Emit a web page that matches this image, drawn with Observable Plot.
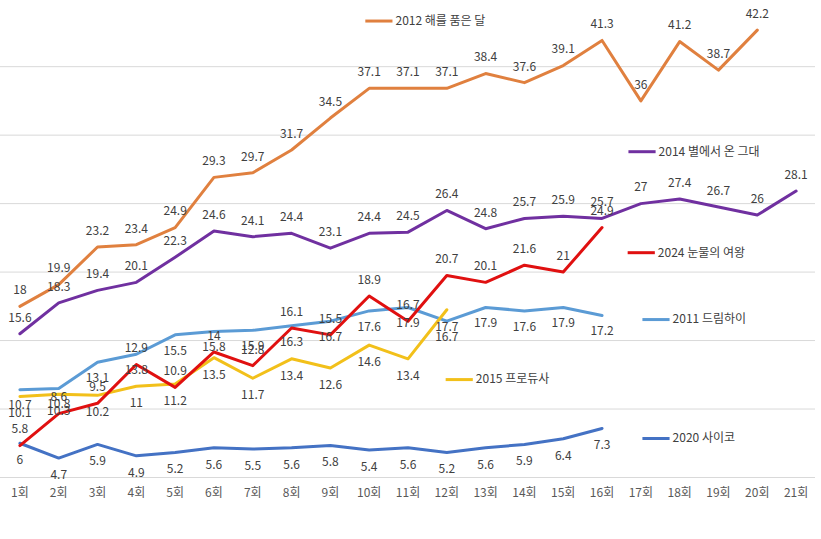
<!DOCTYPE html>
<html><head><meta charset="utf-8">
<script src="https://cdn.jsdelivr.net/npm/d3@7"></script>
<script src="https://cdn.jsdelivr.net/npm/@observablehq/plot@0.6"></script>
<style>
body{margin:0;background:#fff;}
#chart{width:821px;height:539px;}
</style>
</head><body><div id="chart"></div>
<script>
// ---- data ----
const tickLabels = ["1회","2회","3회","4회","5회","6회","7회","8회","9회","10회","11회","12회","13회","14회","15회","16회","17회","18회","19회","20회","21회"];
const seriesNames = ["2012 해를 품은 달","2014 별에서 온 그대","2024 눈물의 여왕","2011 드림하이","2015 프로듀사","2020 사이코"];
const moonSun   = [18, 19.9, 23.2, 23.4, 24.9, 29.3, 29.7, 31.7, 34.5, 37.1, 37.1, 37.1, 38.4, 37.6, 39.1, 41.3, 36, 41.2, 38.7, 42.2];
const starFar   = [15.6, 18.3, 19.4, 20.1, 22.3, 24.6, 24.1, 24.4, 23.1, 24.4, 24.5, 26.4, 24.8, 25.7, 25.9, 25.7, 27, 27.4, 26.7, 26, 28.1];
const queenTears= [5.8, 8.6, 9.5, 12.9, 10.9, 14, 12.8, 16.1, 15.5, 18.9, 16.7, 20.7, 20.1, 21.6, 21, 24.9];
const dreamHigh = [10.7, 10.8, 13.1, 13.8, 15.5, 15.8, 15.9, 16.3, 16.7, 17.6, 17.9, 16.7, 17.9, 17.6, 17.9, 17.2];
const producer  = [10.1, 10.3, 10.2, 11, 11.2, 13.5, 11.7, 13.4, 12.6, 14.6, 13.4, 17.7];
const psycho    = [6, 4.7, 5.9, 4.9, 5.2, 5.6, 5.5, 5.6, 5.8, 5.4, 5.6, 5.2, 5.6, 5.9, 6.4, 7.3];
const yGrid = [3, 9, 15, 21, 27, 33, 39];

// ---- styling / layout (kept apart from data) ----
const colors = {
  "2012 해를 품은 달": "#E0803F",
  "2014 별에서 온 그대": "#7030A0",
  "2024 눈물의 여왕": "#E01010",
  "2011 드림하이": "#5B9BD5",
  "2015 프로듀사": "#F2C01A",
  "2020 사이코": "#4472C4"
};
const labelDy = {
  "2012 해를 품은 달": -16, "2014 별에서 온 그대": -16, "2024 눈물의 여왕": -16,
  "2011 드림하이": 16, "2015 프로듀사": 17, "2020 사이코": 17
};
// legend anchors in data space (episode, rating)
const legendAnchor = [
  {series: "2012 해를 품은 달", x: 9.9, y: 43.0},
  {series: "2014 별에서 온 그대", x: 16.68, y: 31.55},
  {series: "2024 눈물의 여왕", x: 16.66, y: 22.7},
  {series: "2011 드림하이", x: 17.04, y: 16.84},
  {series: "2015 프로듀사", x: 11.97, y: 11.58},
  {series: "2020 사이코", x: 17.04, y: 6.42}
];
const legendLen = 0.7;

const seriesData = {
  "2012 해를 품은 달": moonSun,
  "2014 별에서 온 그대": starFar,
  "2024 눈물의 여왕": queenTears,
  "2011 드림하이": dreamHigh,
  "2015 프로듀사": producer,
  "2020 사이코": psycho
};
const drawOrder = ["2020 사이코","2011 드림하이","2015 프로듀사","2024 눈물의 여왕","2014 별에서 온 그대","2012 해를 품은 달"];
const rows = drawOrder.flatMap(s => seriesData[s].map((v, i) => ({series: s, ep: i + 1, v})));

const font = "'Noto Sans CJK KR', 'Noto Sans', sans-serif";

const chart = Plot.plot({
  width: 821, height: 539,
  marginLeft: 0, marginRight: 6, marginTop: 0, marginBottom: 62,
  style: {fontFamily: font, background: "#fff"},
  x: {domain: [0.5, 21.5], axis: null},
  y: {domain: [3, 44.8], axis: null},
  color: {domain: seriesNames, range: seriesNames.map(s => colors[s])},
  marks: [
    Plot.ruleY(yGrid, {stroke: "#d9d9d9", strokeWidth: 1}),
    Plot.axisX({ticks: d3.range(1, 22), tickFormat: d => tickLabels[d - 1], tickSize: 0, tickPadding: 11, fontSize: 12, color: "#595959"}),
    ...drawOrder.map(s => Plot.line(rows.filter(r => r.series === s), {
      x: "ep", y: "v", stroke: colors[s], strokeWidth: 3, strokeLinejoin: "round", strokeLinecap: "round"
    })),
    ...drawOrder.map(s => Plot.text(rows.filter(r => r.series === s), {
      x: "ep", y: "v", text: d => String(d.v), dy: labelDy[s], fill: "#404040", fontSize: 12
    })),
    Plot.link(legendAnchor, {
      x1: "x", x2: d => d.x + legendLen, y1: "y", y2: "y",
      stroke: d => d.series, strokeWidth: 3
    }),
    Plot.text(legendAnchor, {
      x: d => d.x + legendLen, y: "y", text: "series", textAnchor: "start", dx: 3,
      fill: "#404040", fontSize: 12
    })
  ]
});
document.getElementById("chart").append(chart);
</script>
</body></html>
